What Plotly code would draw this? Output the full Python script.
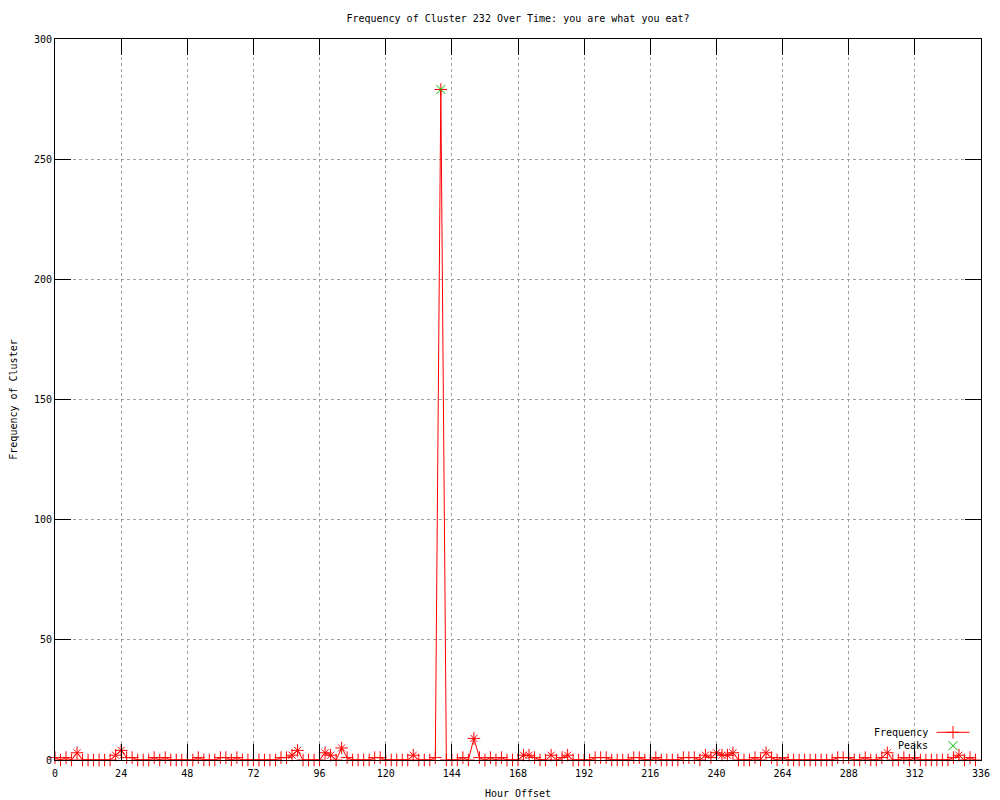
import plotly.graph_objects as go

# ---- data ----
hours = list(range(0, 336, 2))
frequency = [
    1, 0, 1, 0, 3, 0, 0, 0, 0, 0,      # 0-18
    0, 2, 4, 1, 1, 0, 0, 0, 1, 0,      # 20-38
    1, 0, 0, 0, 0, 0, 1, 0, 0, 0,      # 40-58
    1, 1, 0, 1, 0, 0, 0, 0, 0, 0,      # 60-78
    0, 1, 1, 2, 4, 0, 0, 0, 0, 3,      # 80-98
    2, 0, 5, 1, 0, 0, 0, 0, 1, 1,      # 100-118
    0, 0, 0, 0, 0, 2, 0, 0, 0, 1,      # 120-138
    279, 0, 0, 0, 1, 0, 9, 1, 0, 1,    # 140-158
    0, 1, 0, 0, 0, 2, 2, 1, 0, 0,      # 160-178
    2, 0, 1, 2, 0, 0, 0, 0, 1, 1,      # 180-198
    1, 0, 0, 0, 0, 1, 1, 0, 0, 1,      # 200-218
    0, 0, 0, 0, 1, 1, 1, 0, 2, 1,      # 220-238
    3, 2, 2, 3, 0, 0, 0, 1, 0, 3,      # 240-258
    1, 0, 1, 0, 0, 0, 0, 0, 0, 0,      # 260-278
    0, 0, 1, 1, 1, 0, 0, 1, 0, 0,      # 280-298
    1, 3, 0, 0, 1, 0, 1, 0, 0, 0,      # 300-318
    0, 0, 0, 1, 2, 0, 1, 0,            # 320-334
]
peak_hours = [140]
peak_values = [279]

x_ticks = list(range(0, 337, 24))
y_ticks = list(range(0, 301, 50))

title_text = "Frequency of Cluster 232 Over Time: you are what you eat?"
x_title = "Hour Offset"
y_title = "Frequency of Cluster"
legend_names = ["Frequency", "Peaks"]

RED = "#ff0000"
GREEN = "#00c000"
FONT = "DejaVu Sans Mono"

# points of 2 or more get an extra x marker (star look), except the labelled peak
star_x = [h for h, v in zip(hours, frequency) if v >= 2 and h not in peak_hours]
star_y = [v for h, v in zip(hours, frequency) if v >= 2 and h not in peak_hours]

fig = go.Figure()
fig.add_trace(go.Scatter(
    x=hours, y=frequency, mode="lines+markers", name=legend_names[0],
    line=dict(color=RED, width=1),
    marker=dict(symbol="cross-thin-open", size=9, color=RED,
                line=dict(color=RED, width=1)),
    cliponaxis=False, showlegend=False,
))
fig.add_trace(go.Scatter(
    x=star_x, y=star_y, mode="markers",
    marker=dict(symbol="x-thin-open", size=7, color=RED,
                line=dict(color=RED, width=1)),
    cliponaxis=False, showlegend=False, hoverinfo="skip",
))
fig.add_trace(go.Scatter(
    x=peak_hours, y=peak_values, mode="markers", name=legend_names[1],
    marker=dict(symbol="x-thin-open", size=9, color=GREEN,
                line=dict(color=GREEN, width=1)),
    cliponaxis=False, showlegend=False,
))

# page body has an 8px margin: size the figure so the plot lands where the reference has it
OFF = 8
W, H = 1000 - OFF, 800 - OFF
L, R, T, B = 55, 981.5, 38.6, 760      # plot area in window pixels

# ---- gnuplot-style key (text left, sample right), on a pixel overlay axis ----
fig.add_trace(go.Scatter(
    x=[937, 970], y=[732.3, 732.3], mode="lines", xaxis="x2", yaxis="y2",
    line=dict(color=RED, width=1), showlegend=False, hoverinfo="skip",
))
fig.add_trace(go.Scatter(
    x=[953.5], y=[732.3], mode="markers", xaxis="x2", yaxis="y2",
    marker=dict(symbol="cross-thin-open", size=9, color=RED,
                line=dict(color=RED, width=1)),
    showlegend=False, hoverinfo="skip",
))
fig.add_trace(go.Scatter(
    x=[953.5], y=[745.7], mode="markers", xaxis="x2", yaxis="y2",
    marker=dict(symbol="x-thin-open", size=9, color=GREEN,
                line=dict(color=GREEN, width=1)),
    showlegend=False, hoverinfo="skip",
))
for name, yy in zip(legend_names, [732.3, 745.7]):
    fig.add_annotation(x=930, y=yy, xref="x2", yref="y2", text=name,
                       showarrow=False, xanchor="right", yanchor="middle",
                       font=dict(family=FONT, size=10, color="black"))

axis_common = dict(
    showgrid=True, gridcolor="#a0a0a0", griddash="dot", gridwidth=1,
    showline=True, linecolor="black", linewidth=1, mirror="ticks",
    ticks="inside", ticklen=16, tickcolor="black", tickwidth=1,
    zeroline=False, automargin=False,
    tickfont=dict(family=FONT, size=10, color="black"),
)

fig.update_layout(
    width=W, height=H,
    margin=dict(l=L - OFF, r=1000 - R, t=T - OFF, b=800 - B, autoexpand=False),
    paper_bgcolor="white", plot_bgcolor="white",
    title=dict(text=title_text, x=0.5, xref="paper", xanchor="center",
               y=1 - (18 - OFF) / H, yref="container", yanchor="middle",
               font=dict(family=FONT, size=10, color="black")),
    xaxis=dict(range=[0, 336], tickvals=x_ticks, ticklabelstandoff=4,
               title=dict(text=x_title, font=dict(family=FONT, size=10, color="black"),
                          standoff=11),
               **axis_common),
    yaxis=dict(range=[0, 300], tickvals=y_ticks,
               title=dict(text=y_title, font=dict(family=FONT, size=10, color="black"),
                          standoff=15),
               **axis_common),
    xaxis2=dict(range=[L, R], overlaying="x", visible=False, fixedrange=True),
    yaxis2=dict(range=[B, T], overlaying="y", visible=False, fixedrange=True),
    font=dict(family=FONT, size=10, color="black"),
    showlegend=False,
)

fig.write_html("out.html")
